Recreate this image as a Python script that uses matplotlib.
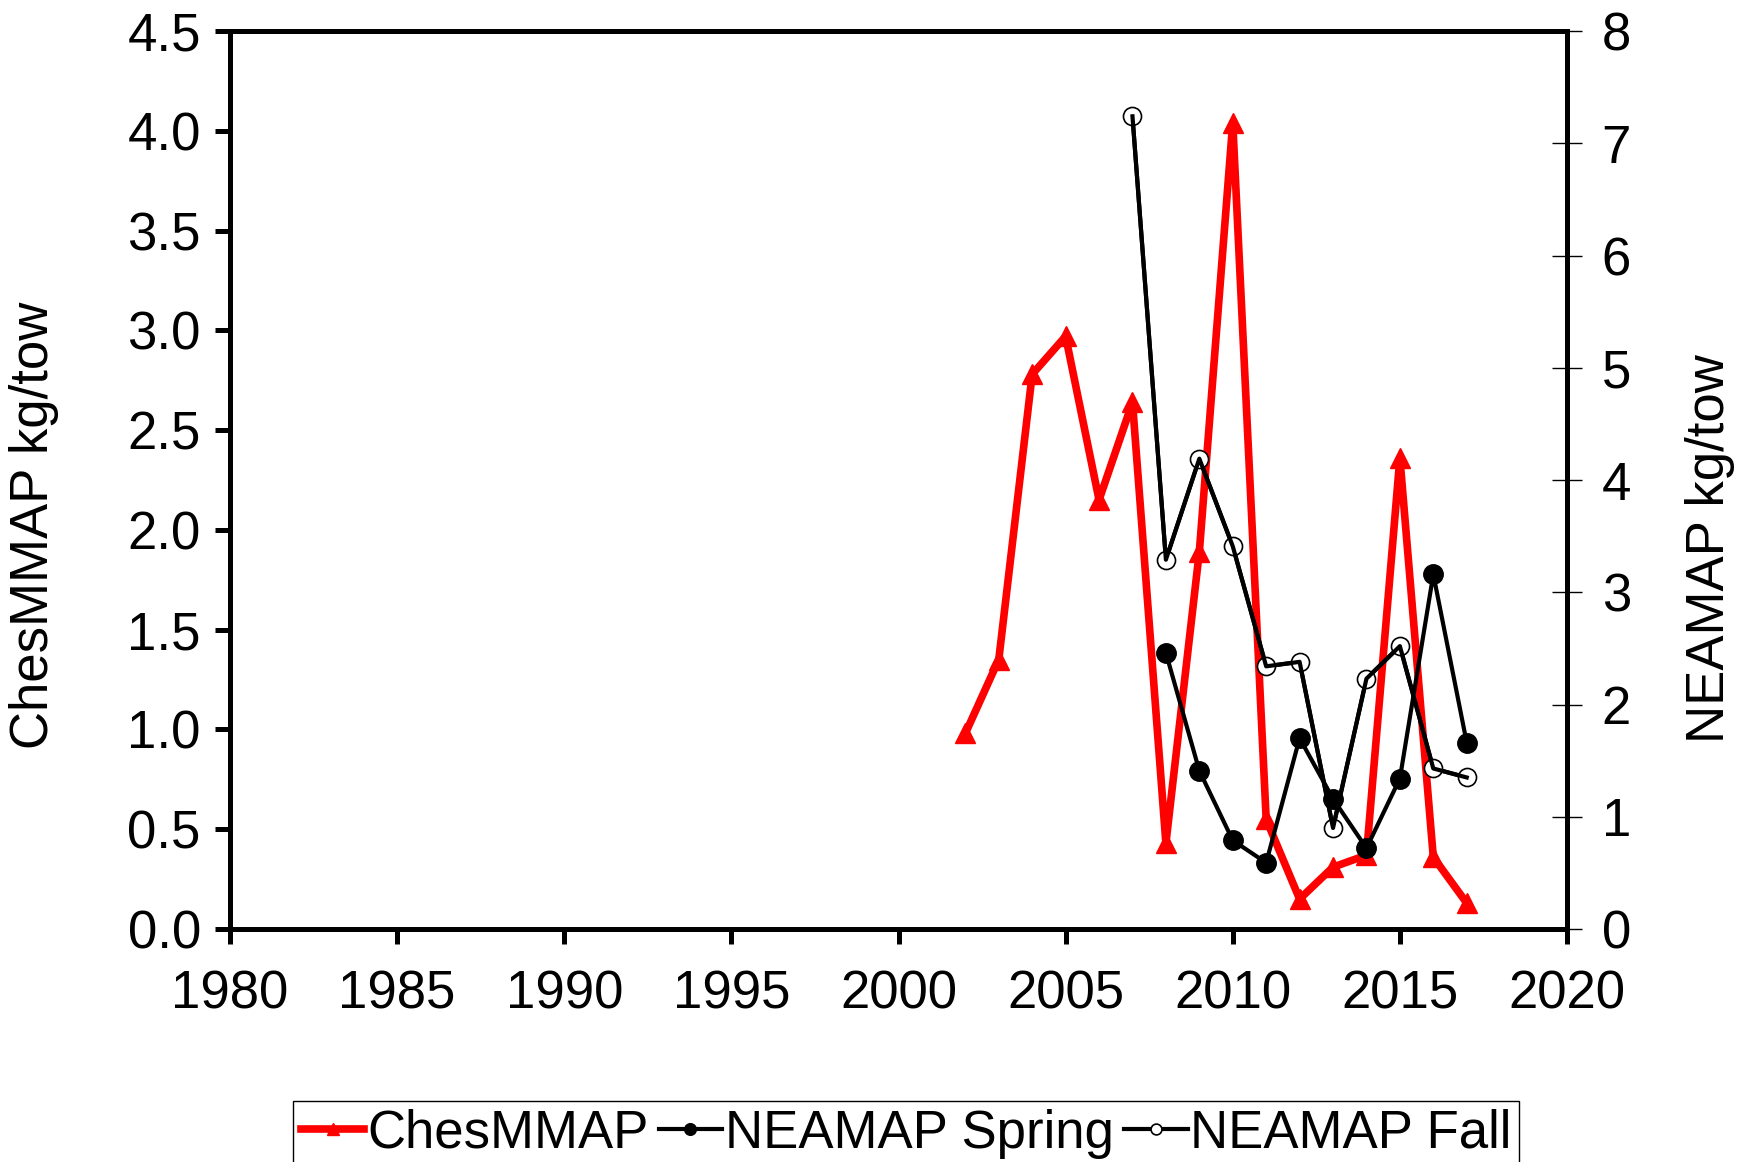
import matplotlib
matplotlib.use('Agg')
import matplotlib.pyplot as plt

# DATA
years_ches = [2002, 2003, 2004, 2005, 2006, 2007, 2008, 2009, 2010,
              2011, 2012, 2013, 2014, 2015, 2016, 2017]
ches = [0.98, 1.35, 2.78, 2.97, 2.15, 2.64, 0.43, 1.89, 4.04,
        0.55, 0.15, 0.31, 0.37, 2.36, 0.36, 0.13]

years_spring = [2008, 2009, 2010, 2011, 2012, 2013, 2014, 2015, 2016, 2017]
spring = [2.46, 1.41, 0.79, 0.59, 1.70, 1.16, 0.72, 1.34, 3.16, 1.66]

years_fall = [2007, 2008, 2009, 2010, 2011, 2012, 2013, 2014, 2015, 2016, 2017]
fall = [7.24, 3.29, 4.19, 3.41, 2.34, 2.38, 0.90, 2.23, 2.52, 1.43, 1.35]

plt.rcParams['font.family'] = ['Liberation Sans', 'DejaVu Sans']
fs = 38

fig = plt.figure(figsize=(17.5, 11.62), dpi=100)
ax = fig.add_axes([230/1750, 1-929/1162, (1567-230)/1750, (929-31)/1162])
ax2 = ax.twinx()

l1, = ax.plot(years_ches, ches, color='red', lw=5.5, marker='^', ms=15,
              label='ChesMMAP')
l2, = ax2.plot(years_spring, spring, color='black', lw=3, marker='o', ms=14,
               label='NEAMAP Spring')
l3, = ax2.plot(years_fall, fall, color='black', lw=3, marker='o', ms=13,
               mfc='white', mec='black', mew=1.2, label='NEAMAP Fall')
# line goes through the open circles, as in the original
ax2.plot(years_fall, fall, color='black', lw=3)

ax.set_xlim(1980, 2020)
ax.set_ylim(0, 4.5)
ax2.set_ylim(0, 8)
ax.set_xticks(range(1980, 2021, 5))
ax.set_yticks([i * 0.5 for i in range(10)])
ax.set_yticklabels(['%.1f' % (i * 0.5) for i in range(10)])
ax2.set_yticks(range(0, 9))

for sp in ax.spines.values():
    sp.set_linewidth(3.6)
for sp in ax2.spines.values():
    sp.set_linewidth(3.6)

ax.tick_params(axis='x', direction='out', length=11, width=3.6,
               labelsize=fs, pad=18)
ax.tick_params(axis='y', direction='out', length=11, width=3.6,
               labelsize=fs, pad=10)
ax2.tick_params(axis='y', direction='inout', length=22, width=1,
                labelsize=fs, pad=14)

ax.set_ylabel('ChesMMAP kg/tow', fontsize=fs)
ax2.set_ylabel('NEAMAP kg/tow', fontsize=fs)
ax.yaxis.set_label_coords(-0.128, 0.45)
ax2.yaxis.set_label_coords(1.088, 0.424)

leg = fig.legend(handles=[l1, l2, l3], loc='upper left',
                 bbox_to_anchor=(293/1750, 1-1101/1162), borderaxespad=0,
                 ncol=3, fontsize=fs, handlelength=1.2, handletextpad=0.05,
                 columnspacing=0.2, borderpad=0.15, fancybox=False,
                 edgecolor='black', framealpha=1, markerscale=0.6)
leg.get_frame().set_linewidth(1)

fig.savefig('out.png', dpi=100)
